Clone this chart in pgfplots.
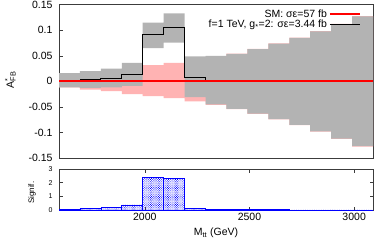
\documentclass[border=0pt]{standalone}
\usepackage{fontspec}
\setmainfont{Liberation Sans}
\usepackage{pgfplots}
\usepackage{pgfplotstable}
\pgfplotsset{compat=1.18}
\usetikzlibrary{patterns.meta}
\definecolor{bandgrey}{RGB}{179,179,179}
\definecolor{bandpink}{RGB}{255,179,179}
\definecolor{framec}{RGB}{60,60,60}
\definecolor{smred}{RGB}{255,0,0}

% x = lower bin edge; sig = signal A_FB, sm = SM A_FB, S = significance (last row closes the last bin)
\pgfplotstableread{
x    sig     sm    S
1590 0.002   0.0   0.05
1690 0.003   0.0   0.12
1790 0.006   0.0   0.20
1890 0.014   0.0   0.37
1990 0.092   0.0   2.39
2090 0.105   0.0   2.34
2190 0.0085  0.0   0.13
2290 0.002   0.0   0.05
2390 0.0005  0.0   0.03
2490 0.0     0.0   0.02
2590 0.0     0.0   0.02
2690 0.0     0.0   0.01
2790 0.0     0.0   0.01
2890 0.0     0.0   0.01
2990 0.0     0.0   0.01
3090 0.0     0.0   0.01
}\datatable

% band outlines: upper edges left to right, then lower edges right to left
% g = grey band (signal), p = pink band (SM)
\pgfplotstableread{
x     g        p
1590  0.016    0.012
1690  0.020    0.016
1790  0.025    0.019
1890  0.036    0.025
1990  0.115    0.032
2090  0.133    0.036
2190  0.049    0.040
2290  0.050    0.046
2390  0.054    0.0545
2490  0.063    0.0635
2590  0.074    0.0745
2690  0.085    0.0855
2790  0.098    0.0985
2890  0.112    0.1125
2990  0.127    0.1275
3090  0.127    0.1275
3090  -0.127   -0.1275
2990  -0.112   -0.1125
2890  -0.098   -0.0985
2790  -0.085   -0.0855
2690  -0.074   -0.0745
2590  -0.063   -0.0635
2490  -0.054   -0.0545
2390  -0.045   -0.046
2290  -0.031   -0.039
2190  0.076    -0.033
2090  0.065    -0.029
1990  -0.009   -0.025
1890  -0.012   -0.019
1790  -0.013   -0.016
1690  -0.012   -0.012
1590  -0.012   -0.012
}\bandtable

\begin{document}
\begin{tikzpicture}
\pgfplotsset{
  every axis/.append style={
    scale only axis, width=314pt,
    xmin=1590, xmax=3090,
    axis line style={framec, line width=0.7pt},
    tick style={framec, line width=0.6pt},
    major tick length=3.5pt,
  }
}
% ---------- top panel ----------
\begin{axis}[
  at={(59pt,86pt)}, anchor=south west,
  height=153.3pt,
  ymin=-0.15, ymax=0.15,
  ytick={-0.15,-0.1,-0.05,0,0.05,0.1,0.15},
  yticklabels={-0.15,-0.1,-0.05,0,0.05,0.1,0.15},
  ytick pos=left,
  xtick=\empty,
  yticklabel style={font=\fontsize{10.5}{12}\selectfont, xshift=-3pt},
  ylabel={A\rlap{\textsuperscript{\scriptsize *}}\textsubscript{FB}},
  ylabel style={at={(axis description cs:-0.155,0.51)}, anchor=center, font=\fontsize{10.5}{12}\selectfont},
  legend style={at={(rel axis cs:0.962,0.982)}, anchor=north east, draw=none, fill=none,
     font=\fontsize{10.5}{11}\selectfont, row sep=-2.5pt, inner sep=0pt},
  legend cell align=right,
  legend plot pos=right,
  legend image code/.code={\draw[#1] (0pt,0pt) -- (30pt,0pt);},
  reverse legend,
]
\addplot[const plot, fill=bandpink, draw=none, forget plot] table[x=x, y=p] {\bandtable} -- cycle;
\addplot[const plot, fill=bandgrey, draw=none, forget plot] table[x=x, y=g] {\bandtable} -- cycle;
\addplot[const plot, draw=black, line width=0.8pt] table[x=x, y=sig] {\datatable};
\addlegendentry{f=1 TeV, g\textsubscript{*}=2: σε=3.44 fb}
\addplot[const plot, draw=smred, line width=2pt] table[x=x, y=sm] {\datatable};
\addlegendentry{SM: σε=57 fb}
\end{axis}
% ---------- bottom panel ----------
\begin{axis}[
  at={(59pt,34pt)}, anchor=south west,
  height=41pt,
  ymin=0, ymax=3,
  ytick={0,1,2,3},
  yticklabels={0,1,2,3},
  xtick={2000,2500,3000},
  xticklabels={2000,2500,3000},
  yticklabel style={font=\fontsize{7}{8}\selectfont, xshift=-3pt},
  xticklabel style={font=\fontsize{10.5}{12}\selectfont},
  ylabel={Signif.},
  ylabel style={at={(axis description cs:-0.086,0.42)}, anchor=center, font=\fontsize{8}{9}\selectfont},
  xlabel={M\textsubscript{tt} (GeV)},
  xlabel style={at={(axis description cs:0.5,-0.56)}, anchor=center, font=\fontsize{10.5}{12}\selectfont},
]
\addplot[ybar interval, draw=blue, line width=0.7pt,
  pattern={Dots[distance=1.6pt, radius=0.55pt, angle=45]}, pattern color=blue] table[x=x, y=S] {\datatable};
\end{axis}
\pgfresetboundingbox
\path[use as bounding box] (0,0) rectangle (374pt,244pt);
\end{tikzpicture}
\end{document}
